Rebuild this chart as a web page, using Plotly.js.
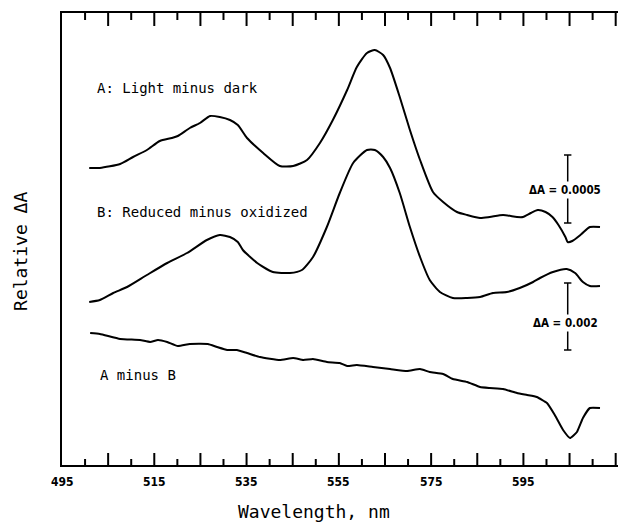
<!DOCTYPE html>
<html>
<head>
<meta charset="utf-8">
<script src="https://cdn.plot.ly/plotly-3.0.1.min.js"></script>
<style>html,body{margin:0;padding:0;background:#fff;}#chart{width:618px;height:525px;}</style>
</head>
<body>
<div id="chart"></div>
<script>
// Wavelength (nm) and relative ΔA (arbitrary units)
const wlA = [500.9,503.2,507.6,510.4,513.4,516.2,518.8,520.1,522.7,524.9,527.1,529.2,531.4,533.1,535.1,538.6,542.2,545.1,548.1,550.9,553.7,556.8,558.9,561.1,562.8,564.6,566.1,568.2,570.4,572.6,575.4,577.6,580.6,582.8,585.6,587.7,590.6,593.6,594.9,596.6,598.1,599.8,601.3,602.6,604.1,604.6,605.6,607.6,609.4,611.6];
const dA_A = [297,297,301,308,315,324,327,329,337,342,349,348,345,340,327,312,299,299,305,322,345,375,398,412,415,410,397,368,335,305,273,263,253,250,247,248,250,248,248,252,255,253,248,240,228,223,224,231,238,238];

const wlB = [500.9,503.2,506.1,509.1,513.4,517.8,522.1,526.4,529.2,531.4,533.1,534.2,537.3,540.7,544.4,547.0,549.4,552.4,555.2,558.1,561.1,562.8,564.6,566.1,568.2,570.4,572.6,574.7,576.9,579.7,582.8,585.6,588.4,591.4,594.2,597.1,598.6,601.4,604.4,606.2,607.9,609.4,611.6];
const dA_B = [163,165,172,178,190,202,212,225,230,228,223,215,202,193,192,195,208,238,272,302,315,315,308,297,272,238,208,185,173,167,167,168,172,173,177,183,187,193,196,192,183,179,179];

const wlAB = [501.1,503.2,507.6,511.9,514.1,515.8,517.8,520.1,522.7,526.6,528.6,530.8,532.9,535.1,537.9,542.2,545.1,547.3,549.4,552.4,555.2,556.8,558.9,562.4,566.1,569.8,572.6,574.7,577.6,579.7,582.8,585.6,587.7,590.6,593.6,595.8,597.9,600.1,601.8,603.6,605.1,606.6,607.9,609.4,611.6];
const dA_AB = [132,131,126,125,123,125,123,119,121,121,118,115,115,112,108,105,107,105,106,103,102,99,100,98,96,94,96,93,91,86,83,78,77,76,72,70,68,62,50,35,27,33,47,57,57];

const majorTicks = [495,505,515,525,535,545,555,565,575,585,595,605,615];
const tickLabels = ["495","","515","","535","","555","","575","","595","",""];
const minorTicks = [500,510,520,530,540,550,560,570,580,590,600,610];

const curveLabels = ["A: Light minus dark","B: Reduced minus oxidized","A minus B"];
const curveLabelX = [502.2,502.2,502.8];
const curveLabelY = [377,253,90];

const xTitle = "Wavelength, nm";
const yTitle = "Relative ΔA";

const scaleBarX = 604.6;
const scaleBars = [{lo:242, hi:310, text:"ΔA = 0.0005", ty:275, tx:604.0},
                   {lo:115, hi:182, text:"ΔA = 0.002", ty:142, tx:604.2}];

const Y_MIN = 0, Y_MAX = 452;   // y axis range (1 unit ≈ 1 px)
const X_RANGE = [495, 615.5];

const lineStyle = {color:'#000', width:2, shape:'spline', smoothing:0.6};
const traces = [
  {x:wlA, y:dA_A, mode:'lines', line:lineStyle},
  {x:wlB, y:dA_B, mode:'lines', line:lineStyle},
  {x:wlAB, y:dA_AB, mode:'lines', line:{color:'#000', width:2, shape:'spline', smoothing:0.4}}
];

// inward tick marks on the top and bottom axes, built from the tick arrays
const tx = [], ty = [];
majorTicks.slice(1).forEach(v => {
  tx.push(v, v, null, v, v, null);
  ty.push(Y_MAX, Y_MAX - 13, null, Y_MIN, Y_MIN + 12, null);
});
minorTicks.forEach(v => {
  tx.push(v, v, null, v, v, null);
  ty.push(Y_MAX, Y_MAX - 7, null, Y_MIN, Y_MIN + 6, null);
});
traces.push({x:tx, y:ty, mode:'lines', line:{color:'#000', width:2, simplify:false}});

const shapes = [];
const annotations = [];
scaleBars.forEach(b => {
  shapes.push({type:'line', xref:'x', yref:'y', x0:scaleBarX, x1:scaleBarX, y0:b.lo, y1:b.hi, line:{color:'#000', width:1.5}});
  shapes.push({type:'line', xref:'x', yref:'y', x0:scaleBarX-0.8, x1:scaleBarX+0.8, y0:b.lo, y1:b.lo, line:{color:'#000', width:1.5}});
  shapes.push({type:'line', xref:'x', yref:'y', x0:scaleBarX-0.8, x1:scaleBarX+0.8, y0:b.hi, y1:b.hi, line:{color:'#000', width:1.5}});
  annotations.push({x:b.tx, y:b.ty, xref:'x', yref:'y', text:b.text, showarrow:false, bgcolor:'#fff',
    font:{family:'DejaVu Sans Condensed, DejaVu Sans', size:11.5, color:'#000', weight:'bold'}});
});
curveLabels.forEach((t,i) => {
  annotations.push({x:curveLabelX[i], y:curveLabelY[i], xref:'x', yref:'y', text:t, showarrow:false,
    xanchor:'left', font:{family:'DejaVu Sans Mono', size:14, color:'#000'}});
});
// tick labels below the bottom axis
majorTicks.forEach((v,i) => {
  if (!tickLabels[i]) return;
  annotations.push({x:v, y:-0.038, xref:'x', yref:'paper', text:tickLabels[i], showarrow:false,
    xanchor:'center', yanchor:'middle',
    font:{family:'DejaVu Sans Condensed, DejaVu Sans', size:12, color:'#000', weight:'bold'}});
});
annotations.push({text:xTitle, xref:'paper', yref:'paper', x:0.453, y:-0.102, xanchor:'center', yanchor:'middle',
  showarrow:false, font:{family:'DejaVu Sans Mono', size:18, color:'#000'}});
annotations.push({text:yTitle, xref:'paper', yref:'paper', x:-0.075, y:0.472, xanchor:'center', yanchor:'middle',
  textangle:-90, showarrow:false, font:{family:'DejaVu Sans Mono', size:18, color:'#000'}});

const layout = {
  width:618, height:525,
  margin:{l:62, r:0, t:13, b:60, pad:0},
  paper_bgcolor:'#fff', plot_bgcolor:'#fff',
  showlegend:false,
  xaxis:{
    range:X_RANGE, showgrid:false, zeroline:false,
    showline:true, linecolor:'#000', linewidth:2, mirror:true,
    ticks:'', showticklabels:false
  },
  yaxis:{
    range:[Y_MIN, Y_MAX], showgrid:false, zeroline:false,
    showline:true, linecolor:'#000', linewidth:2, mirror:false,
    ticks:'', showticklabels:false
  },
  shapes:shapes,
  annotations:annotations
};

Plotly.newPlot('chart', traces, layout, {staticPlot:true, displayModeBar:false});
</script>
</body>
</html>
